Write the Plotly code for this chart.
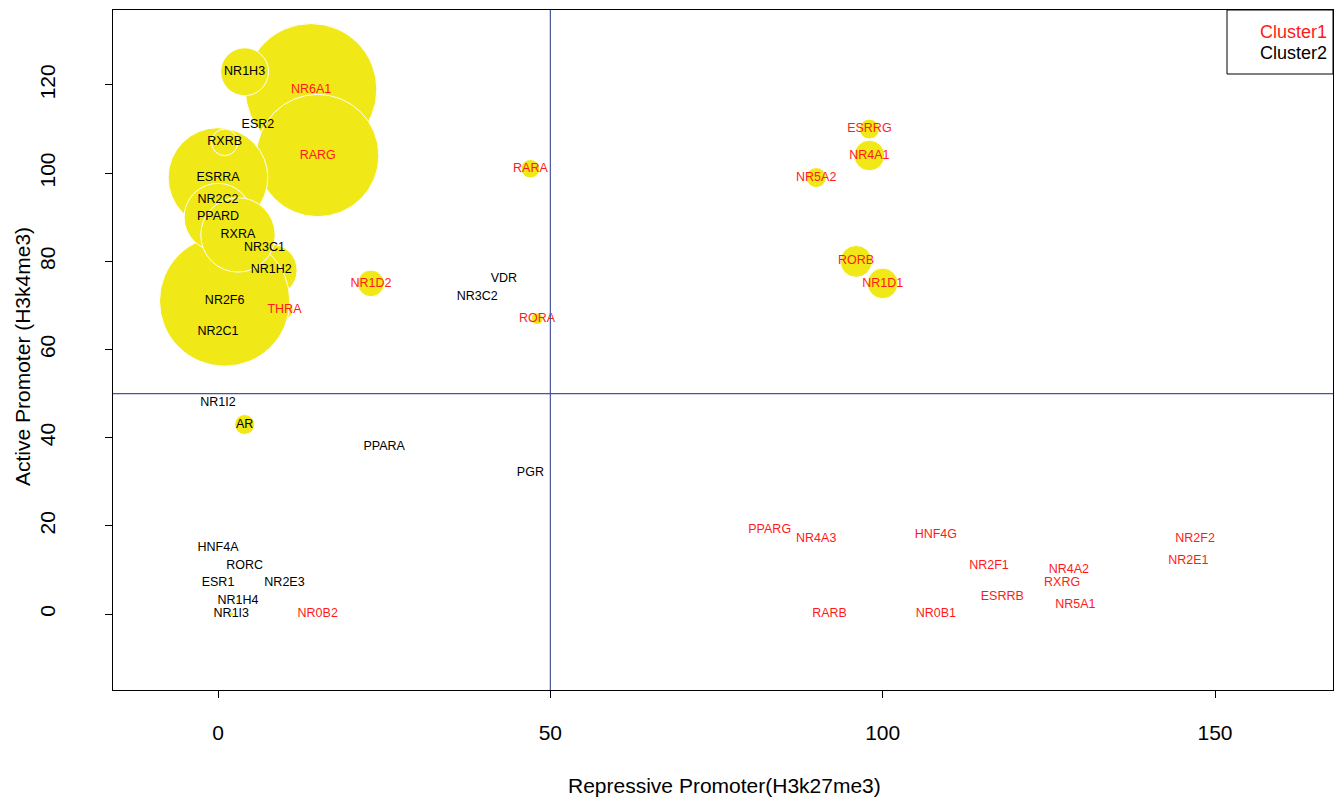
import plotly.graph_objects as go

# Nuclear receptor genes: promoter marks (H3k27me3 vs H3k4me3), bubble radius in x-axis units
genes = [
    "NR6A1", "NR1H3", "RARG", "ESR2", "NR1H2", "NR3C1", "THRA", "NR2F6", "NR2C1",
    "ESRRA", "RXRB", "NR2C2", "PPARD", "RXRA", "NR1D2", "VDR", "NR3C2", "RARA",
    "RORA", "ESRRG", "NR4A1", "NR5A2", "RORB", "NR1D1", "NR1I2", "AR", "PPARA",
    "PGR", "HNF4A", "RORC", "ESR1", "NR2E3", "NR1H4", "NR1I3", "NR0B2", "PPARG",
    "NR4A3", "HNF4G", "NR2F1", "ESRRB", "RARB", "NR0B1", "NR2F2", "NR2E1", "NR4A2",
    "RXRG", "NR5A1",
]
repressive = [
    14, 4, 15, 6, 8, 7, 10, 1, 0,
    0, 1, 0, 0, 3, 23, 43, 39, 47,
    48, 98, 98, 90, 96, 100, 0, 4, 25,
    47, 0, 4, 0, 10, 3, 2, 15, 83,
    90, 108, 116, 118, 92, 108, 147, 146, 128,
    127, 129,
]
active = [
    119, 123, 104, 111, 78, 83, 69, 71, 64,
    99, 107, 94, 90, 86, 75, 76, 72, 101,
    67, 110, 104, 99, 80, 75, 48, 43, 38,
    32, 15, 11, 7, 7, 3, 0, 0, 19,
    17, 18, 11, 4, 0, 0, 17, 12, 10,
    7, 2,
]
radius = [
    9.9, 3.6, 9.2, 0, 3.9, 0, 1.3, 9.8, 0,
    7.5, 2.0, 0, 5.1, 5.6, 2.0, 0, 0.15, 1.4,
    0.9, 1.5, 2.3, 1.5, 2.4, 2.3, 0, 1.5, 0.2,
    0, 0, 0, 0, 0, 0.2, 0.25, 0, 0,
    0, 0, 0, 0, 0, 0, 0, 0.2, 0,
    0.15, 0,
]
cluster = [
    1, 2, 1, 2, 2, 2, 1, 2, 2,
    2, 2, 2, 2, 2, 1, 2, 2, 1,
    1, 1, 1, 1, 1, 1, 2, 2, 2,
    2, 2, 2, 2, 2, 2, 2, 1, 1,
    1, 1, 1, 1, 1, 1, 1, 1, 1,
    1, 1,
]

x_ticks = [0, 50, 100, 150]
y_ticks = [0, 20, 40, 60, 80, 100, 120]
cluster_names = ["Cluster1", "Cluster2"]
cluster_colors = {1: "#FF1A1A", 2: "black"}

W, H = 1335, 799
margin = dict(l=113, r=2, t=10, b=109)
x_range = [-15.8, 167.75]
y_range = [-17.2, 137.0]
px_per_x = (W - margin["l"] - margin["r"]) / (x_range[1] - x_range[0])

# circle radii are in x-axis units, so convert to pixel diameters
diam = [2 * r * px_per_x for r in radius]
outline = [1 if d > 6 else 0 for d in diam]

FONT = "Liberation Sans, Arial, Helvetica, sans-serif"

fig = go.Figure()
fig.add_trace(go.Scatter(
    x=repressive, y=active, mode="markers",
    marker=dict(size=diam, sizemode="diameter", color="#F0E817",
                line=dict(color="white", width=outline), opacity=1),
    hoverinfo="skip", showlegend=False,
))
fig.add_trace(go.Scatter(
    x=repressive, y=active, mode="text", text=genes,
    textposition="middle center",
    textfont=dict(family=FONT, size=12.5, color=[cluster_colors[c] for c in cluster]),
    hoverinfo="skip", showlegend=False,
))

line_col = "#46559E"
fig.add_hline(y=50, line=dict(color=line_col, width=1.2))
fig.add_vline(x=50, line=dict(color=line_col, width=1.2))

axis_common = dict(
    showline=True, mirror=True, linecolor="black", linewidth=1,
    ticks="outside", ticklen=7, tickcolor="black", tickwidth=1,
    showgrid=False, zeroline=False,
    tickfont=dict(family=FONT, size=21, color="black"),
)
fig.update_xaxes(range=x_range, tickvals=x_ticks, ticklabelstandoff=17, **axis_common)
fig.update_yaxes(range=y_range, tickvals=y_ticks, tickangle=-90, ticklabelstandoff=42, **axis_common)

pw = W - margin["l"] - margin["r"]
ph = H - margin["t"] - margin["b"]

def px_to_paper_x(px):
    return (px - margin["l"]) / pw

def px_to_paper_y(py):
    return (H - margin["b"] - py) / ph

# legend box in the top-right corner
fig.add_shape(type="rect", xref="paper", yref="paper",
              x0=px_to_paper_x(1227), x1=1.0, y0=px_to_paper_y(74), y1=1.0,
              line=dict(color="black", width=1), fillcolor="white", layer="above")
for i, (name, py) in enumerate(zip(cluster_names, [32, 53])):
    fig.add_annotation(text=name, xref="paper", yref="paper",
                       x=px_to_paper_x(1258), y=px_to_paper_y(py),
                       xanchor="left", yanchor="middle", showarrow=False,
                       font=dict(family=FONT, size=18, color=cluster_colors[i + 1]))

# axis titles
fig.add_annotation(text="Repressive Promoter(H3k27me3)", xref="paper", yref="paper",
                   x=px_to_paper_x(724), y=px_to_paper_y(785),
                   xanchor="center", yanchor="middle", showarrow=False,
                   font=dict(family=FONT, size=21, color="black"))
fig.add_annotation(text="Active Promoter (H3k4me3)", xref="paper", yref="paper",
                   x=px_to_paper_x(22), y=px_to_paper_y(357), textangle=-90,
                   xanchor="center", yanchor="middle", showarrow=False,
                   font=dict(family=FONT, size=21, color="black"))

fig.update_layout(
    width=W, height=H, margin=margin,
    paper_bgcolor="white", plot_bgcolor="white",
    showlegend=False,
)

fig.write_html("out.html")
